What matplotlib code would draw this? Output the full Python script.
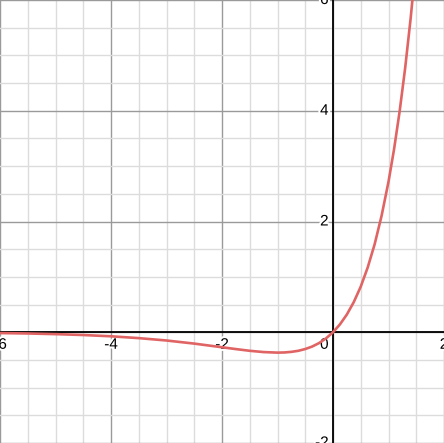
import matplotlib
matplotlib.use("Agg")
import matplotlib.pyplot as plt
import matplotlib.patheffects as pe

# points
xs = [-6, -5.5, -5, -4.5, -4, -3.5, -3, -2.5, -2, -1.75, -1.5, -1.25, -1, -0.875,
      -0.75, -0.625, -0.5, -0.375, -0.25, -0.125, 0, 0.125, 0.25, 0.375, 0.5, 0.625,
      0.75, 0.875, 1, 1.1, 1.2, 1.3, 1.4, 1.5]
ys = [-0.015, -0.022, -0.034, -0.05, -0.073, -0.106, -0.149, -0.205, -0.271, -0.304,
      -0.335, -0.358, -0.368, -0.365, -0.354, -0.335, -0.303, -0.258, -0.195, -0.110,
      0.0, 0.142, 0.321, 0.546, 0.824, 1.169, 1.588, 2.101, 2.718, 3.304, 3.984,
      4.770, 5.677, 6.723]

x_labels = [-6, -4, -2, 2]
y_labels = [6, 4, 2, -2]

fig = plt.figure(figsize=(4.44, 4.43), dpi=100)
ax = fig.add_axes([0, 0, 1, 1])
ax.set_xlim(-6, 2)
ax.set_ylim(-2, 6)
ax.axis("off")

# grid
for i in range(-12, 5):
    v = i * 0.5
    c = "#9a9a9a" if i % 4 == 0 else "#dcdcdc"
    ax.axvline(v, color=c, lw=1, zorder=1)
for i in range(-4, 13):
    v = i * 0.5
    c = "#9a9a9a" if i % 4 == 0 else "#dcdcdc"
    ax.axhline(v, color=c, lw=1, zorder=1)
ax.axhline(0, color="black", lw=1.3, zorder=2)
ax.axvline(0, color="black", lw=1.3, zorder=2)

halo = [pe.withStroke(linewidth=3, foreground="white")]
font = dict(family="Liberation Sans", fontsize=11, zorder=3, path_effects=halo)
for v in x_labels:
    ax.text(v, -0.1, str(v), ha="center", va="top", **font)
for v in y_labels:
    ax.text(-0.08, v, str(v), ha="right", va="center", **font)
ax.text(-0.08, -0.1, "0", ha="right", va="top", **font)

ax.plot(xs, ys, color="#e06464", lw=1.9, zorder=4, solid_capstyle="round")

fig.savefig("out.png", dpi=100)
